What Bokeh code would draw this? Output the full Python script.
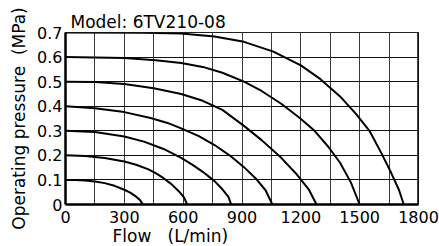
from bokeh.plotting import figure
from bokeh.models import FixedTicker, Span, Title
from bokeh.embed import file_html
from bokeh.resources import INLINE

# ---- data ----
x_ticks = [0, 300, 600, 900, 1200, 1500, 1800]
y_ticks = [0, 0.1, 0.2, 0.3, 0.4, 0.5, 0.6, 0.7]
x_grid = [0, 150, 300, 450, 600, 750, 900, 1050, 1200, 1350, 1500, 1650, 1800]

flow_01 = [0, 50, 100, 150, 200, 250, 300, 330, 360, 380, 395]
pres_01 = [0.1, 0.0995, 0.098, 0.094, 0.087, 0.076, 0.060, 0.048, 0.032, 0.018, 0.0]

flow_02 = [0, 100, 200, 300, 360, 420, 460, 500, 540, 580, 605, 620]
pres_02 = [0.2, 0.197, 0.189, 0.175, 0.162, 0.144, 0.128, 0.107, 0.083, 0.052, 0.028, 0.0]

flow_03 = [0, 150, 300, 400, 500, 590, 650, 700, 760, 800, 830, 845]
pres_03 = [0.3, 0.295, 0.277, 0.256, 0.226, 0.19, 0.16, 0.133, 0.095, 0.062, 0.032, 0.0]

flow_04 = [0, 150, 300, 434, 520, 590, 680, 760, 840, 910, 970, 1020, 1055]
pres_04 = [0.4, 0.392, 0.376, 0.352, 0.332, 0.31, 0.278, 0.242, 0.198, 0.152, 0.106, 0.058, 0.0]

flow_05 = [0, 150, 300, 450, 590, 700, 800, 910, 1000, 1100, 1180, 1240, 1280]
pres_05 = [0.5, 0.499, 0.49, 0.473, 0.45, 0.422, 0.385, 0.32, 0.262, 0.19, 0.122, 0.062, 0.0]

flow_06 = [0, 300, 460, 590, 700, 800, 910, 1000, 1100, 1190, 1270, 1340, 1400, 1455, 1500]
pres_06 = [0.6, 0.596, 0.587, 0.576, 0.56, 0.536, 0.5, 0.462, 0.41, 0.355, 0.3, 0.235, 0.17, 0.09, 0.0]

flow_07 = [0, 400, 590, 760, 910, 1060, 1200, 1300, 1400, 1480, 1550, 1610, 1660, 1700, 1725]
pres_07 = [0.7, 0.699, 0.696, 0.684, 0.662, 0.622, 0.566, 0.51, 0.44, 0.37, 0.3, 0.21, 0.13, 0.06, 0.0]

curves = [(flow_01, pres_01), (flow_02, pres_02), (flow_03, pres_03),
          (flow_04, pres_04), (flow_05, pres_05), (flow_06, pres_06),
          (flow_07, pres_07)]

title_text = "Model: 6TV210-08"
x_label = "Flow\u00a0\u00a0\u00a0(L/min)"
y_label = "Operating pressure\u00a0 (MPa)"

X_MIN, X_MAX = 0, 1800
Y_MIN, Y_MAX = 0, 0.7

FONT = "DejaVu Sans"

p = figure(width=439, height=246, x_range=(X_MIN, X_MAX), y_range=(Y_MIN, Y_MAX),
           output_backend="svg", toolbar_location=None,
           min_border_left=65, min_border_right=21, min_border_top=32, min_border_bottom=42)

p.background_fill_color = "white"
p.border_fill_color = "white"
p.outline_line_color = "#222222"
p.outline_line_width = 1

# grids
p.xgrid.ticker = FixedTicker(ticks=x_grid)
p.ygrid.ticker = FixedTicker(ticks=y_ticks)
p.xgrid.grid_line_color = "#3a3a3a"
p.xgrid.grid_line_width = 1
p.ygrid.grid_line_color = "#111111"
p.ygrid.grid_line_width = 1.2

# axes
for ax in (p.xaxis[0], p.yaxis[0]):
    ax.axis_line_color = "black"
    ax.axis_line_width = 2.5
    ax.major_tick_line_color = None
    ax.minor_tick_line_color = None
    ax.major_tick_in = 0
    ax.major_tick_out = 0
    ax.minor_tick_in = 0
    ax.minor_tick_out = 0
    ax.major_label_text_font = FONT
    ax.major_label_text_font_size = "16px"
    ax.major_label_text_color = "black"

p.xaxis.ticker = FixedTicker(ticks=x_ticks)
p.yaxis.ticker = FixedTicker(ticks=y_ticks)
p.xaxis.major_label_standoff = 6
p.yaxis.major_label_standoff = 3
p.yaxis.major_label_overrides = {0: "0", 0.1: "0.1", 0.2: "0.2", 0.3: "0.3",
                                 0.4: "0.4", 0.5: "0.5", 0.6: "0.6", 0.7: "0.7"}

p.yaxis.axis_label = y_label
p.yaxis.axis_label_text_font = FONT
p.yaxis.axis_label_text_font_size = "17px"
p.yaxis.axis_label_text_font_style = "normal"
p.yaxis.axis_label_text_color = "black"
p.yaxis.axis_label_standoff = 5

# right border (thicker)
p.add_layout(Span(location=X_MAX, dimension="height", line_color="black", line_width=2.5))

# curves
for fx, py in curves:
    p.line(fx, py, line_color="black", line_width=2, line_join="round")

# title above and x label below as left-aligned titles
p.add_layout(Title(text=title_text, align="left", offset=5, standoff=2,
                   text_font=FONT, text_font_size="17px", text_font_style="normal",
                   text_color="black"), "above")
p.add_layout(Title(text=x_label, align="left", offset=47, standoff=-3,
                   text_font=FONT, text_font_size="17px", text_font_style="normal",
                   text_color="black"), "below")

open("out.html", "w").write(file_html(p, INLINE))
